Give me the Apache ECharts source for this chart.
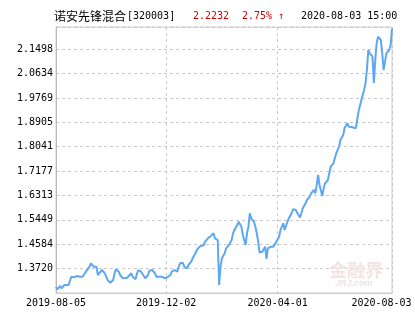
<!DOCTYPE html>
<html><head><meta charset="utf-8">
<script src="https://cdn.jsdelivr.net/npm/echarts@6/dist/echarts.min.js"></script>
<style>html,body{margin:0;padding:0;background:#fff}#c{width:415px;height:330px}</style>
</head><body><div id="c"></div>
<script>
const fundName = '诺安先锋混合';
const fundCode = '[320003]';
const latestNav = '2.2232';
const latestChange = '2.75% ↑';
const latestTime = '2020-08-03 15:00';
const watermarkCn = '金融界';
const watermarkEn = 'JRJ.com';

const xTickIndex = [0, 79, 159, 241];
const xTickLabels = ['2019-08-05', '2019-12-02', '2020-04-01', '2020-08-03'];
const yTickLabels = ['1.3720', '1.4584', '1.5449', '1.6313', '1.7177', '1.8041', '1.8905', '1.9769', '2.0634', '2.1498'];
const yMin = 1.285617, yMax = 2.2286, yStep = 0.086415;

// trading-day index (0 = 2019-08-05) and unit NAV
const dayIndex = [0,1,3,4,5,6,9,10,11,13,15,16,17,18,19,22,24,25,27,28,29,30,31,33,34,35,36,37,39,40,41,42,43,45,46,48,49,51,52,54,55,57,58,59,60,61,63,64,65,66,67,69,70,71,72,73,76,77,78,79,80,82,83,84,85,87,88,89,90,91,92,94,95,96,97,98,100,101,102,103,104,106,107,108,109,110,111,113,114,116,117,118,119,120,121,122,124,125,126,127,128,130,131,132,133,134,136,137,138,139,140,142,143,144,145,146,148,149,150,151,152,154,155,156,157,158,160,161,162,163,164,166,167,168,169,170,172,173,174,175,176,177,179,180,181,182,183,185,186,187,188,189,191,192,193,194,195,197,198,199,200,201,203,204,205,206,207,209,210,211,212,213,215,216,217,218,219,221,222,223,224,225,227,228,229,230,231,233,234,235,236,237,239,240,241];
const nav = [1.3069,1.2987,1.3104,1.3023,1.2963,1.3140,1.3140,1.3200,1.3434,1.3413,1.3459,1.3494,1.3434,1.3494,1.3434,1.3647,1.3789,1.3909,1.3789,1.3732,1.3789,1.3494,1.3555,1.3672,1.3696,1.3555,1.3434,1.3317,1.3221,1.3221,1.3317,1.3555,1.3696,1.3611,1.3494,1.3377,1.3342,1.3399,1.3459,1.3555,1.3434,1.3342,1.3530,1.3672,1.3696,1.3611,1.3459,1.3377,1.3413,1.3494,1.3647,1.3672,1.3611,1.3555,1.3434,1.3484,1.3434,1.3413,1.3377,1.3434,1.3413,1.3494,1.3611,1.3576,1.3672,1.3611,1.3789,1.3909,1.3849,1.3930,1.3789,1.3732,1.3849,1.3909,1.3966,1.4086,1.4264,1.4381,1.4405,1.4498,1.4474,1.4558,1.4675,1.4735,1.4795,1.4735,1.4877,1.4973,1.4795,1.4735,1.3140,1.3789,1.4086,1.4143,1.4264,1.4441,1.4558,1.4498,1.4735,1.4973,1.5090,1.5267,1.5384,1.5327,1.5207,1.4912,1.4558,1.4973,1.5207,1.5682,1.5504,1.5384,1.5207,1.4973,1.4675,1.4292,1.4321,1.4264,1.4498,1.4062,1.4441,1.4498,1.4441,1.4498,1.4558,1.4675,1.4852,1.5090,1.5207,1.5327,1.5090,1.5384,1.5504,1.5504,1.5682,1.5823,1.5799,1.5703,1.5621,1.5533,1.5682,1.5859,1.6036,1.6153,1.6213,1.6270,1.6391,1.6508,1.6391,1.6685,1.7039,1.6685,1.6295,1.6579,1.6745,1.6745,1.6862,1.7334,1.7394,1.7454,1.7511,1.7809,1.8043,1.8280,1.8340,1.8457,1.8706,1.8872,1.8752,1.8812,1.8741,1.8777,1.8695,1.8989,1.9283,1.9344,1.9698,2.0053,2.0290,2.0762,2.1471,2.1354,2.1233,2.0301,2.1116,2.1708,2.1942,2.1825,2.1354,2.0762,2.0762,2.1354,2.1471,2.1637,2.2232];

const MONO = "'DejaVu Sans Mono', 'Liberation Mono', monospace";
const CJK = "'Noto Sans CJK SC', sans-serif";

const seriesData = dayIndex.map((d, i) => [d, nav[i]]);

function yLabel(v) {
  for (const t of yTickLabels) { if (Math.abs(parseFloat(t) - v) < 0.0005) return t; }
  return '';
}
function xLabel(v) {
  const k = xTickIndex.indexOf(Math.round(v));
  if (k < 0) return '';
  return k === xTickLabels.length - 1 ? '{last|' + xTickLabels[k] + '}' : xTickLabels[k];
}

const chart = echarts.init(document.getElementById('c'), null, {renderer: 'canvas'});
chart.setOption({
  animation: false,
  backgroundColor: '#fff',
  grid: {left: 56, right: 23, top: 27, bottom: 37, show: true, borderColor: '#cccccc', borderWidth: 1, containLabel: false},
  xAxis: {
    type: 'value', min: 0, max: 241,
    axisLine: {show: true, lineStyle: {color: '#cccccc', width: 1}},
    axisTick: {show: false, customValues: xTickIndex},
    axisLabel: {
      customValues: xTickIndex, formatter: xLabel, color: '#000', fontFamily: MONO, fontSize: 10, margin: 5,
      rich: {last: {fontFamily: MONO, fontSize: 10, color: '#000', padding: [0, 21, 0, 0]}}
    },
    splitLine: {show: true, customValues: xTickIndex, lineStyle: {color: '#c8c8c8', type: [3, 3], width: 1}}
  },
  yAxis: {
    type: 'value', min: yMin, max: yMax, interval: yStep, scale: true,
    axisLine: {show: true, lineStyle: {color: '#bbbbbb', width: 1}},
    axisTick: {show: false},
    axisLabel: {formatter: yLabel, color: '#000', fontFamily: MONO, fontSize: 10, margin: 3, showMinLabel: false, showMaxLabel: false},
    splitLine: {show: true, lineStyle: {color: '#c8c8c8', type: [3, 3], width: 1}}
  },
  series: [{
    type: 'line', data: seriesData, showSymbol: false, smooth: false,
    lineStyle: {color: '#5ea8f2', width: 2}, z: 3
  }],
  graphic: [
    {type: 'text', z: 1, style: {x: 329, y: 270, text: watermarkCn, font: 'bold 18px ' + CJK, fill: '#f3e4e4', textVerticalAlign: 'middle'}},
    {type: 'text', z: 1, style: {x: 335, y: 284, text: watermarkEn, font: 'italic bold 9px Arial, sans-serif', fill: '#efe2e2', textVerticalAlign: 'middle'}},
    {type: 'text', style: {x: 54, y: 16, text: fundName, font: '12px ' + CJK, fill: '#000', textVerticalAlign: 'middle'}},
    {type: 'text', style: {x: 127, y: 16, text: fundCode, font: '10px ' + MONO, fill: '#000', textVerticalAlign: 'middle'}},
    {type: 'text', style: {x: 193, y: 16, text: latestNav, font: '10px ' + MONO, fill: '#cc0000', textVerticalAlign: 'middle'}},
    {type: 'text', style: {x: 242, y: 16, text: latestChange, font: '10px ' + MONO, fill: '#cc0000', textVerticalAlign: 'middle'}},
    {type: 'text', style: {x: 301, y: 16, text: latestTime, font: '10px ' + MONO, fill: '#000', textVerticalAlign: 'middle'}}
  ]
});
</script></body></html>
